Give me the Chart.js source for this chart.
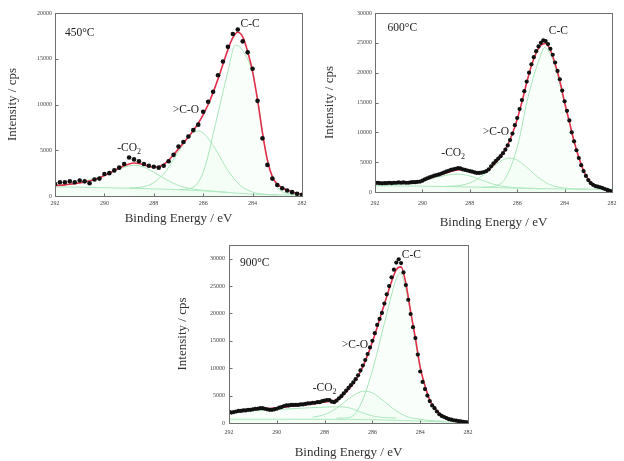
<!DOCTYPE html>
<html lang="en">
<head>
  <meta charset="UTF-8">
  <title>C1s XPS spectra at 450, 600 and 900 °C</title>
  <script src="https://cdn.jsdelivr.net/npm/chart.js"></script>
  <style>
    body { margin: 0; background: #fff; width: 624px; height: 461px; overflow: hidden; position: relative; }
    .panel { position: absolute; }
  </style>
</head>
<body>
  <div class="panel" style="left:0;top:0;width:310px;height:230px"><canvas id="c450"></canvas></div>
  <div class="panel" style="left:312px;top:0;width:312px;height:230px"><canvas id="c600"></canvas></div>
  <div class="panel" style="left:168px;top:232px;width:310px;height:229px"><canvas id="c900"></canvas></div>

<script>
// binding energy grids (eV)
const energy02 = [
  292.0, 291.8, 291.6, 291.4, 291.2, 291.0, 290.8, 290.6, 290.4, 290.2,
  290.0, 289.8, 289.6, 289.4, 289.2, 289.0, 288.8, 288.6, 288.4, 288.2,
  288.0, 287.8, 287.6, 287.4, 287.2, 287.0, 286.8, 286.6, 286.4, 286.2,
  286.0, 285.8, 285.6, 285.4, 285.2, 285.0, 284.8, 284.6, 284.4, 284.2,
  284.0, 283.8, 283.6, 283.4, 283.2, 283.0, 282.8, 282.6, 282.4, 282.2,
  282.0
];
const energy01 = [
  292.0, 291.9, 291.8, 291.7, 291.6, 291.5, 291.4, 291.3, 291.2, 291.1,
  291.0, 290.9, 290.8, 290.7, 290.6, 290.5, 290.4, 290.3, 290.2, 290.1,
  290.0, 289.9, 289.8, 289.7, 289.6, 289.5, 289.4, 289.3, 289.2, 289.1,
  289.0, 288.9, 288.8, 288.7, 288.6, 288.5, 288.4, 288.3, 288.2, 288.1,
  288.0, 287.9, 287.8, 287.7, 287.6, 287.5, 287.4, 287.3, 287.2, 287.1,
  287.0, 286.9, 286.8, 286.7, 286.6, 286.5, 286.4, 286.3, 286.2, 286.1,
  286.0, 285.9, 285.8, 285.7, 285.6, 285.5, 285.4, 285.3, 285.2, 285.1,
  285.0, 284.9, 284.8, 284.7, 284.6, 284.5, 284.4, 284.3, 284.2, 284.1,
  284.0, 283.9, 283.8, 283.7, 283.6, 283.5, 283.4, 283.3, 283.2, 283.1,
  283.0, 282.9, 282.8, 282.7, 282.6, 282.5, 282.4, 282.3, 282.2, 282.1,
  282.0
];

// tick labels
const energyTicks = [292, 290, 288, 286, 284, 282];
const ticks20k = [0, 5000, 10000, 15000, 20000];
const ticks30k = [0, 5000, 10000, 15000, 20000, 25000, 30000];

// 450 C : measured counts (on energy02) and fitted envelope (on energy02)
const counts450 = [
  1300, 1500, 1500, 1600, 1500, 1700, 1600, 1400, 1800, 1900,
  2400, 2500, 2800, 3100, 3500, 4200, 4000, 3800, 3500, 3300,
  3200, 3100, 3300, 3800, 4500, 5400, 5900, 6500, 7200, 7800,
  9200, 10300, 11400, 13200, 14700, 16300, 17700, 18200, 16900, 15700,
  13900, 10400, 6300, 3400, 1900, 1200, 850, 600, 420, 250,
  120
];
const fit450 = [
  1150, 1180, 1220, 1280, 1350, 1430, 1530, 1650, 1800, 2000,
  2250, 2500, 2780, 3050, 3300, 3500, 3600, 3550, 3400, 3250,
  3150, 3200, 3450, 3900, 4500, 5150, 5800, 6450, 7150, 7950,
  8900, 10000, 11300, 12800, 14400, 16000, 17300, 17900, 17400, 15800,
  13600, 10500, 6900, 3900, 2100, 1300, 900, 650, 450, 300,
  180
];
// 450 C : fitted components [eV, cps]
const base450 = [[292, 1000], [290, 910], [288, 780], [287, 690], [286, 570], [285, 390], [284, 200], [283, 125], [282, 100]];
const co2_450 = [[292, 1150], [291.5, 1250], [291, 1450], [290.5, 1850], [290, 2250], [289.5, 2850], [289, 3300], [288.8, 3350], [288.5, 3250], [288, 2600], [287.5, 1800], [287, 1150], [286.5, 800], [286, 620], [285, 400]];
const co_450 = [[289, 880], [288.5, 965], [288, 1470], [287.5, 2750], [287, 4860], [286.5, 6730], [286.2, 7100], [286, 6890], [285.5, 5110], [285, 2790], [284.5, 1170], [284, 430], [283.5, 190], [283, 125]];
const cc_450 = [[287, 700], [286.5, 850], [286, 2600], [285.5, 7900], [285, 13600], [284.7, 16500], [284.4, 15900], [284, 13400], [283.75, 9800], [283.5, 5250], [283, 1000], [282.5, 250], [282, 120]];

// 600 C : measured counts (on energy01) and fitted envelope (on energy02)
const counts600 = [
  1500, 1550, 1500, 1450, 1500, 1500, 1550, 1500, 1550, 1550,
  1600, 1550, 1600, 1550, 1550, 1600, 1650, 1650, 1700, 1750,
  1900, 2100, 2300, 2450, 2600, 2750, 2850, 2950, 3100, 3250,
  3400, 3550, 3700, 3800, 3900, 4000, 3950, 3800, 3700, 3600,
  3500, 3400, 3300, 3200, 3200, 3250, 3350, 3500, 3800, 4300,
  4800, 5200, 5600, 6000, 6500, 7100, 7800, 8700, 9800, 11200,
  12400, 13900, 15400, 16900, 18500, 20000, 21400, 22600, 23600, 24400,
  25000, 25400, 25300, 24800, 24000, 23000, 21700, 20300, 18900, 17000,
  15200, 13600, 12000, 10000, 8500, 7000, 5700, 4500, 3500, 2700,
  2000, 1500, 1200, 1000, 900, 800, 650, 500, 350, 200,
  100
];
const fit600 = [
  1400, 1410, 1420, 1440, 1460, 1480, 1510, 1550, 1610, 1700,
  1850, 2150, 2450, 2700, 2950, 3200, 3450, 3650, 3750, 3650,
  3500, 3350, 3250, 3350, 3750, 4500, 5400, 6500, 7900, 9800,
  12200, 15100, 18300, 21200, 23300, 24600, 24900, 23800, 21500, 18600,
  15000, 11800, 8500, 5800, 3600, 2100, 1300, 850, 600, 350,
  150
];
const base600 = [[292, 1050], [290, 980], [288, 850], [287, 760], [286, 650], [285, 560], [284, 500], [283, 470], [282, 450]];
const co2_600 = [[292, 1150], [291, 1300], [290.5, 1500], [290, 1850], [289.5, 2350], [289, 2800], [288.5, 3000], [288, 2700], [287.5, 2000], [287, 1300], [286.5, 900], [286, 700], [285, 560]];
const co_600 = [[289, 950], [288.5, 1055], [288, 1525], [287.5, 2650], [287, 4310], [286.5, 5565], [286.3, 5680], [286, 5350], [285.5, 3800], [285, 2110], [284.5, 1060], [284, 675], [283.5, 515], [283, 470]];
const cc_600 = [[287.5, 800], [287, 950], [286.5, 2300], [286, 7500], [285.5, 16600], [285, 23000], [284.85, 24200], [284.5, 22200], [284, 14800], [283.5, 7100], [283, 2100], [282.5, 700], [282, 450]];

// 900 C : measured counts (on energy01) and fitted envelope (on energy02)
const counts900 = [
  2100, 1900, 2000, 2100, 2200, 2200, 2300, 2300, 2400, 2400,
  2500, 2600, 2600, 2700, 2700, 2600, 2500, 2400, 2400, 2500,
  2600, 2800, 2900, 3100, 3200, 3200, 3300, 3300, 3300, 3300,
  3400, 3400, 3500, 3600, 3600, 3700, 3700, 3800, 3800, 4000,
  4100, 4200, 4200, 3900, 3800, 4100, 4500, 4900, 5400, 5900,
  6400, 6900, 7400, 8000, 8700, 9600, 10500, 11500, 12600, 13800,
  15000, 16400, 17900, 19000, 20100, 21800, 23500, 25000, 26600, 28000,
  29300, 29900, 29200, 27500, 25200, 22500, 19900, 17500, 15500, 12500,
  9400, 7500, 6200, 5000, 4000, 3200, 2700, 2100, 1600, 1300,
  1100, 900, 700, 600, 500, 450, 350, 280, 200, 150,
  100
];
const fit900 = [
  2000, 2080, 2160, 2240, 2320, 2400, 2480, 2560, 2620, 2680,
  2760, 2850, 2950, 3050, 3150, 3250, 3350, 3450, 3550, 3700,
  3850, 3950, 4100, 4500, 5200, 6100, 7200, 8600, 10300, 12400,
  14800, 17500, 20300, 23100, 25800, 28000, 28500, 25500, 20300, 15500,
  10200, 6800, 4200, 2800, 1800, 1200, 800, 550, 350, 200,
  120
];
const base900 = [[292, 700], [290, 700], [288, 680], [287, 650], [286, 600], [285, 500], [284, 350], [283, 200], [282, 100]];
const co2_900 = [[292, 1900], [291, 2200], [290, 2450], [289, 2700], [288, 2900], [287.5, 2950], [287, 2800], [286.5, 2000], [286, 1300], [285.5, 1000], [285, 900]];
const co_900 = [[288.5, 1055], [288, 1545], [287.5, 2710], [287, 4400], [286.5, 5700], [286.3, 5820], [286, 5500], [285.5, 3920], [285, 2200], [284.5, 1105], [284, 675], [283.5, 430], [283, 300]];
const cc_900 = [[287.5, 880], [287, 950], [286.5, 3300], [286, 9600], [285.5, 18200], [285, 26300], [284.85, 27400], [284.5, 22400], [284, 10000], [283.5, 3400], [283, 1200], [282.5, 450], [282, 120]];

const SERIF = '"Liberation Serif", "DejaVu Serif", serif';

function pairs(xs, ys) { return xs.map((x, i) => ({ x: x, y: ys[i] })); }
function pts(list) { return list.map(p => ({ x: p[0], y: p[1] })); }

// box around the plot and small inward ticks
const frame = {
  id: 'frame',
  afterDraw(chart) {
    const { ctx, chartArea: a, scales } = chart;
    ctx.save();
    ctx.strokeStyle = '#6f6f6f';
    ctx.lineWidth = 1;
    const l = Math.round(a.left) + 0.5, t = Math.round(a.top) + 0.5;
    const r = Math.round(a.right) + 0.5, b = Math.round(a.bottom) + 0.5;
    ctx.strokeRect(l, t, r - l, b - t);
    ctx.beginPath();
    scales.x.ticks.forEach(tk => {
      const px = Math.round(scales.x.getPixelForValue(tk.value)) + 0.5;
      ctx.moveTo(px, b); ctx.lineTo(px, b - 3);
    });
    scales.y.ticks.forEach(tk => {
      const py = Math.round(scales.y.getPixelForValue(tk.value)) + 0.5;
      ctx.moveTo(l, py); ctx.lineTo(l + 3, py);
    });
    ctx.stroke();
    ctx.restore();
  }
};

// peak names and temperature, placed in data coordinates
const peakLabels = {
  id: 'peakLabels',
  afterDatasetsDraw(chart, args, opts) {
    const { ctx, scales: { x, y } } = chart;
    ctx.save();
    ctx.fillStyle = '#222';
    ctx.textBaseline = 'middle';
    ctx.textAlign = 'left';
    (opts.items || []).forEach(it => {
      const px = x.getPixelForValue(it.e), py = y.getPixelForValue(it.i);
      ctx.font = '11.5px ' + SERIF;
      const w = ctx.measureText(it.text).width;
      ctx.font = '8px ' + SERIF;
      const sw = it.sub ? ctx.measureText(it.sub).width : 0;
      const left = it.left ? px : px - (w + sw) / 2;
      ctx.font = '11.5px ' + SERIF;
      ctx.fillText(it.text, left, py);
      if (it.sub) {
        ctx.font = '8px ' + SERIF;
        ctx.fillText(it.sub, left + w, py + 4);
      }
    });
    ctx.restore();
  }
};

function makePanel(id, s) {
  const comps = s.comps.map(c => ({
    data: pts(c),
    borderColor: '#a6e6b9',
    backgroundColor: 'rgba(205,242,216,0.10)',
    fill: 'origin',
    borderWidth: 1,
    pointRadius: 0,
    cubicInterpolationMode: 'monotone'
  }));
  return new Chart(document.getElementById(id), {
    type: 'line',
    data: {
      datasets: [
        {
          data: pairs(s.energy, s.counts),
          showLine: false,
          pointRadius: s.r,
          pointBackgroundColor: '#111',
          pointBorderWidth: 0
        },
        {
          data: pairs(energy02, s.fit),
          borderColor: '#e2304a',
          borderWidth: 1.6,
          pointRadius: 0,
          cubicInterpolationMode: 'monotone'
        }
      ].concat(comps)
    },
    options: {
      responsive: true,
      maintainAspectRatio: false,
      animation: false,
      events: [],
      layout: { padding: { left: 0, top: 13, right: s.rightPad, bottom: 0 } },
      plugins: {
        legend: { display: false },
        tooltip: { enabled: false },
        peakLabels: { items: s.labels }
      },
      scales: {
        x: {
          type: 'linear',
          reverse: true,
          min: 282,
          max: 292,
          grid: { display: false, drawTicks: false },
          border: { display: false },
          afterBuildTicks(scale) { scale.ticks = energyTicks.map(v => ({ value: v })); },
          ticks: { padding: s.xTickPad, color: '#444', font: { family: SERIF, size: 6 }, callback: v => String(v) },
          title: { display: true, text: 'Binding Energy / eV', color: '#333', font: { family: SERIF, size: 13 }, padding: { top: 0, bottom: s.xTitlePad } },
          afterFit(scale) { scale.height = s.xh; }
        },
        y: {
          min: 0,
          max: s.ymax,
          grid: { display: false, drawTicks: false },
          border: { display: false },
          afterBuildTicks(scale) { scale.ticks = s.yTicks.map(v => ({ value: v })); },
          ticks: {
            padding: s.yTickPad,
            color: '#444',
            font: { family: SERIF, size: 6 },
            callback: v => String(v)
          },
          title: { display: true, text: 'Intensity / cps', color: '#333', font: { family: SERIF, size: 13 }, padding: { top: s.yTitlePad, bottom: 0 } },
          afterFit(scale) { scale.width = s.yw; }
        }
      }
    },
    plugins: [frame, peakLabels]
  });
}

makePanel('c450', {
  energy: energy02, counts: counts450, fit: fit450, r: 2.3,
  comps: [cc_450, co_450, co2_450, base450],
  ymax: 20000, yTicks: ticks20k, yw: 55, xh: 34, rightPad: 8,
  xTickPad: 3.5, xTitlePad: 4, yTitlePad: 5, yTickPad: 3,
  labels: [
    { text: '450°C', e: 291.6, i: 17800, left: true },
    { text: '-CO', sub: '2', e: 289.0, i: 5250 },
    { text: '>C-O', e: 286.7, i: 9400 },
    { text: 'C-C', e: 284.1, i: 18800 }
  ]
});

makePanel('c600', {
  energy: energy01, counts: counts600, fit: fit600, r: 2.1,
  comps: [cc_600, co_600, co2_600, base600],
  ymax: 30000, yTicks: ticks30k, yw: 63, xh: 38, rightPad: 6,
  xTickPad: 7.5, xTitlePad: 0, yTitlePad: 10, yTickPad: 3,
  labels: [
    { text: '600°C', e: 291.47, i: 27490, left: true },
    { text: '-CO', sub: '2', e: 288.7, i: 6540 },
    { text: '>C-O', e: 286.9, i: 10060 },
    { text: 'C-C', e: 284.26, i: 26980 }
  ]
});

makePanel('c900', {
  energy: energy01, counts: counts900, fit: fit900, r: 2.1,
  comps: [cc_900, co_900, co2_900, base900],
  ymax: 32500, yTicks: ticks30k, yw: 61, xh: 38, rightPad: 8,
  xTickPad: 5.5, xTitlePad: 1, yTitlePad: 7, yTickPad: 4,
  labels: [
    { text: '900°C', e: 291.54, i: 29270, left: true },
    { text: '-CO', sub: '2', e: 288.0, i: 6400 },
    { text: '>C-O', e: 286.73, i: 14270 },
    { text: 'C-C', e: 284.37, i: 30730 }
  ]
});
</script>
</body>
</html>
